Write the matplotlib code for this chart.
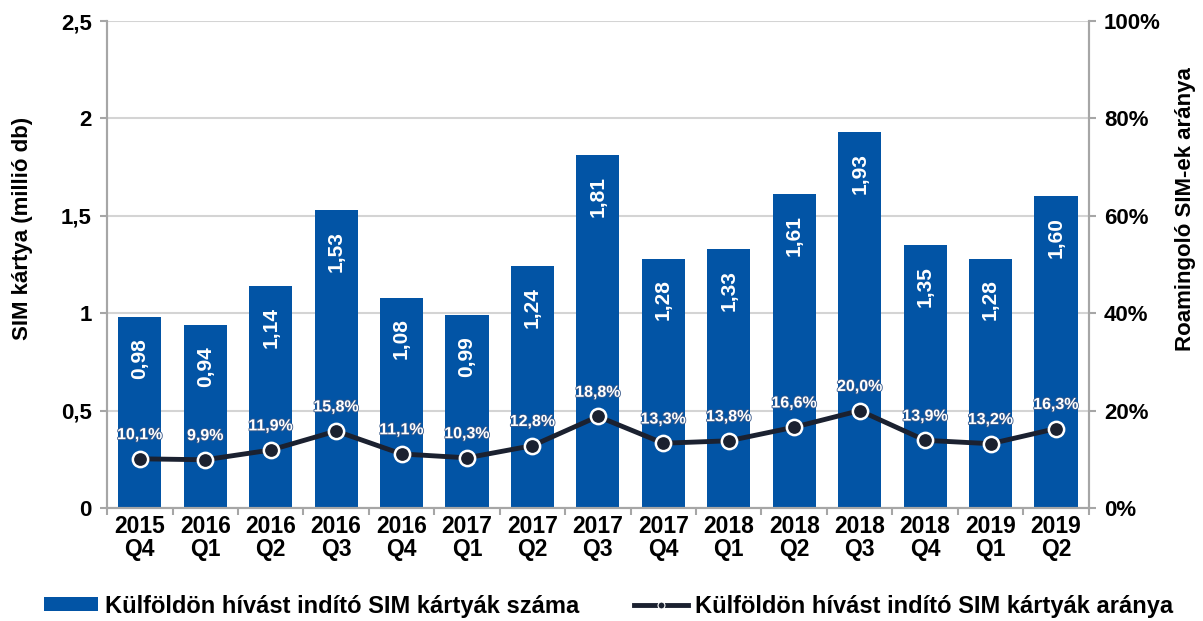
import matplotlib
matplotlib.use("Agg")
import matplotlib.pyplot as plt
from matplotlib.lines import Line2D
from matplotlib.patches import Patch
import matplotlib.patheffects as pe
import numpy as np

plt.rcParams["font.family"] = ["Liberation Sans", "DejaVu Sans"]
plt.rcParams["font.weight"] = "bold"

# Data
periods = ["2015\nQ4", "2016\nQ1", "2016\nQ2", "2016\nQ3", "2016\nQ4", "2017\nQ1",
           "2017\nQ2", "2017\nQ3", "2017\nQ4", "2018\nQ1", "2018\nQ2", "2018\nQ3",
           "2018\nQ4", "2019\nQ1", "2019\nQ2"]
sim_count = [0.98, 0.94, 1.14, 1.53, 1.08, 0.99, 1.24, 1.81, 1.28, 1.33, 1.61, 1.93,
             1.35, 1.28, 1.60]
roaming_share = [10.1, 9.9, 11.9, 15.8, 11.1, 10.3, 12.8, 18.8, 13.3, 13.8, 16.6, 20.0,
                 13.9, 13.2, 16.3]

bar_color = "#0254A5"
line_color = "#1B2130"
grid_color = "#D4D4D4"
spine_color = "#A6A6A6"

fig = plt.figure(figsize=(12.03, 6.21), dpi=100)
ax = fig.add_axes([0.089, 0.182, 0.816, 0.784])
ax2 = ax.twinx()

x = np.arange(len(periods))

# Bars
ax.bar(x, sim_count, width=0.66, color=bar_color, zorder=2)
ax.set_ylim(0, 2.5)
ax.set_xlim(-0.5, len(periods) - 0.5)
ax.set_yticks([0, 0.5, 1, 1.5, 2, 2.5])
ax.set_yticklabels(["0", "0,5", "1", "1,5", "2", "2,5"], fontsize=16, fontweight="bold")
ax.yaxis.grid(True, color=grid_color, linewidth=1.5, zorder=0)
ax.set_axisbelow(True)

# x ticks: labels at centers, tick marks at boundaries
ax.set_xticks(x)
ax.set_xticklabels(periods, fontsize=16.5, fontweight="bold", linespacing=1.0)
ax.tick_params(axis="x", length=0, pad=5)
ax.set_xticks(np.arange(-0.5, len(periods), 1), minor=True)
ax.tick_params(axis="x", which="minor", length=5, color=spine_color, width=1.5)
ax.tick_params(axis="y", length=5, color=spine_color, width=1.5, pad=6)

for s in ["top"]:
    ax.spines[s].set_visible(False)
    ax2.spines[s].set_visible(False)
for s in ["left", "bottom", "right"]:
    ax.spines[s].set_color(spine_color)
    ax.spines[s].set_linewidth(1.5)
    ax2.spines[s].set_color(spine_color)
    ax2.spines[s].set_linewidth(1.5)

ax.set_ylabel("SIM kártya (millió db)", fontsize=16, fontweight="bold")
ax.yaxis.set_label_coords(-0.075, 0.575)

# Bar value labels
for xi, v in zip(x, sim_count):
    ax.annotate(f"{v:.2f}".replace(".", ","), (xi, v), xytext=(0, -15),
                textcoords="offset points", rotation=90, ha="center", va="top",
                color="white", fontsize=15, fontweight="bold", zorder=5)

# Line on secondary axis
ax2.plot(x, roaming_share, color=line_color, linewidth=3.5, marker="o", markersize=11,
         markerfacecolor=line_color, markeredgecolor="white", markeredgewidth=1.8, zorder=4)
ax2.set_ylim(0, 100)
ax2.set_yticks([0, 20, 40, 60, 80, 100])
ax2.set_yticklabels([f"{t}%" for t in [0, 20, 40, 60, 80, 100]], fontsize=16, fontweight="bold")
ax2.tick_params(axis="y", length=5, color=spine_color, width=1.5, pad=6)
ax2.set_ylabel("Roamingoló SIM-ek aránya", fontsize=16, fontweight="bold", rotation=90)
ax2.yaxis.set_label_coords(1.088, 0.614)

for xi, p in zip(x, roaming_share):
    ax2.annotate(f"{p:.1f}%".replace(".", ","), (xi, p), xytext=(0, 12),
                 textcoords="offset points", ha="center", va="bottom",
                 color="white", fontsize=11.5, fontweight="bold", zorder=6,
                 path_effects=[pe.withStroke(linewidth=1.2, foreground="#3a5a8a")])

# Legend
handles = [Patch(facecolor=bar_color, edgecolor="none"),
           Line2D([0], [0], color=line_color, linewidth=3.5, marker="o", markersize=5,
                  markerfacecolor=line_color, markeredgecolor="white", markeredgewidth=0.8)]
labels = ["Külföldön hívást indító SIM kártyák száma",
          "Külföldön hívást indító SIM kártyák aránya"]
fig.legend(handles, labels, loc="center", bbox_to_anchor=(0.506, 0.024), ncol=2,
           frameon=False, handlelength=2.3, handleheight=0.5,
           handletextpad=0.3, columnspacing=2.3,
           prop={"weight": "bold", "size": 17})

fig.savefig("out.png", dpi=100)
